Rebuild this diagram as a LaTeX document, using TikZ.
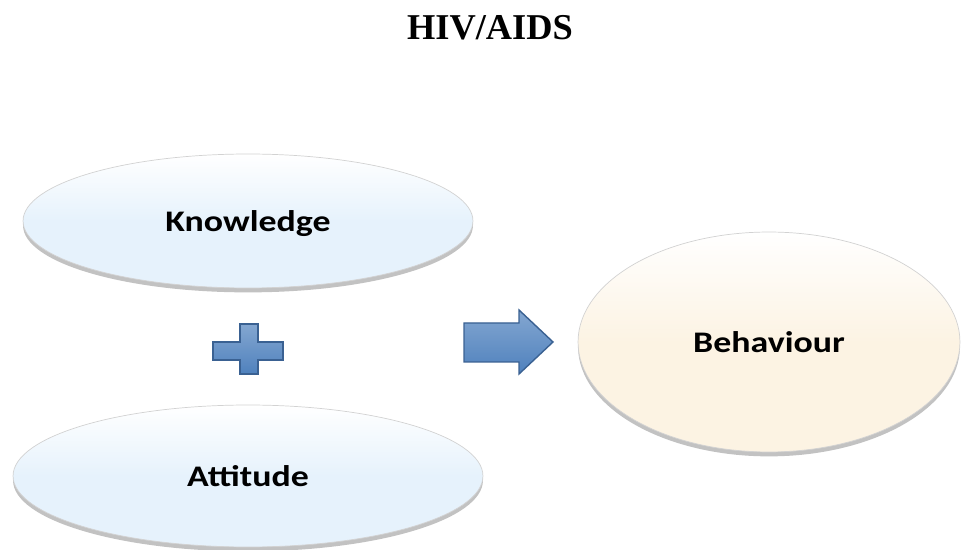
\documentclass[tikz,border=0pt]{standalone}
\usepackage{fontspec}
\setmainfont{Liberation Serif}
\newfontfamily\calib{Carlito}
\usepackage{graphicx}
\usetikzlibrary{shapes.geometric,shadows}
\definecolor{ovalblue}{HTML}{E6F2FC}
\definecolor{ovalcream}{HTML}{FCF3E3}
\definecolor{symblue}{HTML}{4F81BD}
\definecolor{symedge}{HTML}{3A6192}
\newcommand{\wtext}[1]{\scalebox{1.2}[1]{#1}}
\tikzset{
  oval/.style={ellipse,draw=gray!35,inner sep=0,text depth=0pt,
    font=\calib\bfseries\fontsize{17}{20}\selectfont,
    drop shadow={shadow xshift=0pt,shadow yshift=-2.5pt,opacity=.6,fill=gray!80}},
  blueoval/.style={oval,top color=white,bottom color=ovalblue,middle color=ovalblue},
  creamoval/.style={oval,top color=white,bottom color=ovalcream,middle color=ovalcream},
  symbol/.style={draw=symedge,line width=.8pt,line join=miter,
    top color=symblue!70!white,bottom color=symblue}
}
\begin{document}
\begin{tikzpicture}[x=0.02cm,y=-0.02cm]
\useasboundingbox (0,0) rectangle (961,550); %page

\node[font=\bfseries\fontsize{20.7}{24}\selectfont] (title) at (490,28) {HIV/AIDS}; %title

\node[blueoval,minimum width=9cm,minimum height=2.68cm] (know) at (248,221) {\wtext{Knowledge}}; %top oval
\node[blueoval,minimum width=9.4cm,minimum height=2.84cm] (att) at (248,476) {\wtext{Attitude}}; %bottom oval
\node[creamoval,minimum width=7.64cm,minimum height=4.4cm] (behav) at (769,342) {\wtext{Behaviour}}; %right oval

%plus sign
\draw[symbol] (240,324)--(258,324)--(258,342)--(283,342)--(283,360)--(258,360)
  --(258,374)--(240,374)--(240,360)--(213,360)--(213,342)--(240,342)--cycle;
%block arrow
\draw[symbol] (464,323)--(519,323)--(519,310)--(553,342)--(519,374)--(519,362)--(464,362)--cycle;
\end{tikzpicture}
\end{document}
